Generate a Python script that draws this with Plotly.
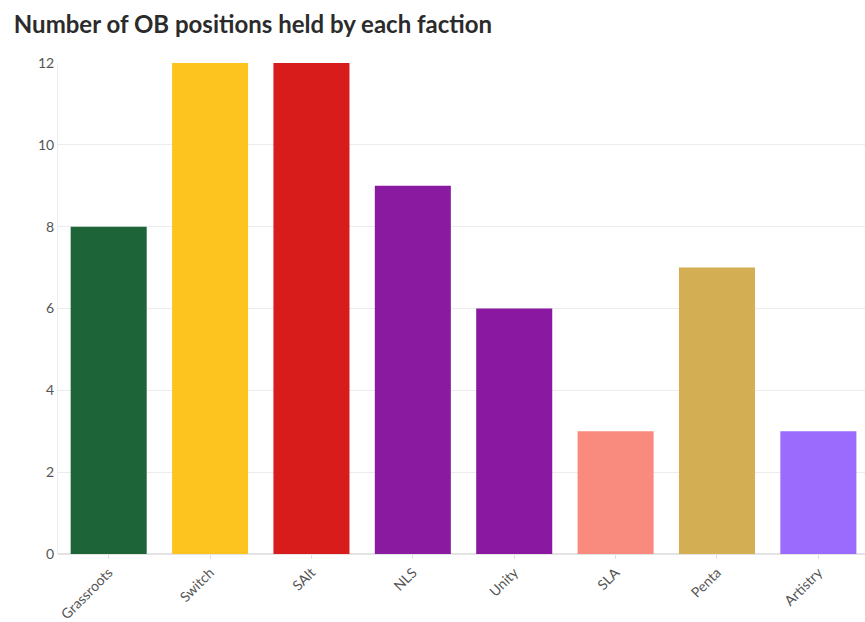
import plotly.graph_objects as go

factions = ["Grassroots", "Switch", "SAlt", "NLS", "Unity", "SLA", "Penta", "Artistry"]
positions = [8, 12, 12, 9, 6, 3, 7, 3]
colors = ["#1d6538", "#fdc41f", "#d81b1b", "#8a1aa0", "#8a18a0", "#f98b7e", "#d4ae53", "#9a6bfc"]
y_ticks = [0, 2, 4, 6, 8, 10, 12]

fig = go.Figure(go.Bar(x=factions, y=positions, marker=dict(color=colors, line=dict(width=0))))

fig.update_layout(
    width=865, height=622,
    margin=dict(l=58, r=0, t=63, b=68),
    paper_bgcolor="white", plot_bgcolor="white",
    bargap=0.25,
    showlegend=False,
    font=dict(family="Lato, Open Sans, sans-serif", color="#555555", size=13),
    title=dict(text="<b>Number of OB positions held by each faction</b>",
               x=0.016, xanchor="left", y=0.96, yanchor="middle",
               font=dict(size=24, color="#2b2b2b", family="Lato, Open Sans, sans-serif")),
)
fig.update_yaxes(range=[0, 12], tickvals=y_ticks, showgrid=True, gridcolor="#ececec",
                 zeroline=True, zerolinecolor="#e4e4e4", showline=True, linecolor="#ececec",
                 ticks="", automargin=False, tickfont=dict(size=14, color="#555555"))
fig.update_xaxes(range=[-0.5, 7.46], tickangle=-45, ticks="outside", tickcolor="#e0e0e0", ticklen=4,
                 showline=False, automargin=False, tickfont=dict(size=14, color="#555555"))

fig.write_html("out.html")
